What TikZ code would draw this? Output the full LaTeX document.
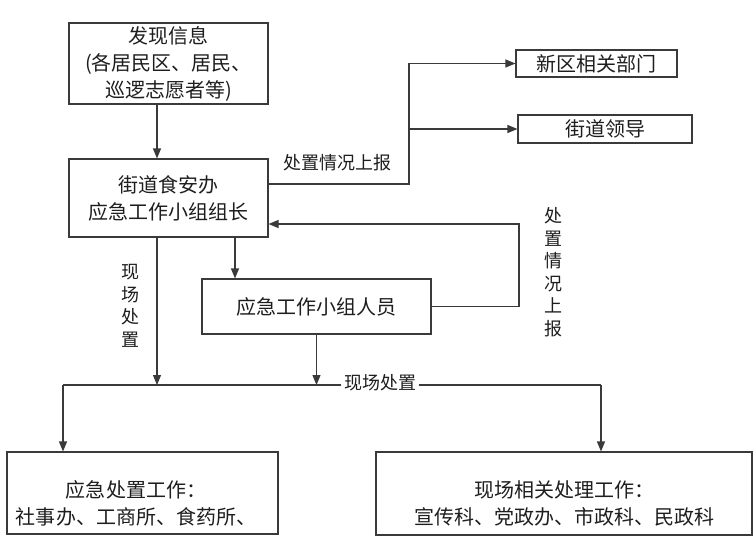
\documentclass[tikz,border=0pt]{standalone}
\usepackage{fontspec}
\setmainfont{Noto Sans CJK SC}
\usetikzlibrary{arrows.meta}
\definecolor{lc}{HTML}{3A3A3A}
\definecolor{tc}{HTML}{1E1E1E}
\begin{document}
\begin{tikzpicture}[x=1pt,y=-1pt,
  box/.style={draw=lc, line width=1.1pt, inner sep=0pt, align=center, text=tc,
              font=\fontsize{20}{27}\selectfont},
  arr/.style={draw=lc, line width=1.1pt, -{Triangle[length=10pt,width=8pt]}},
  ln/.style={draw=lc, line width=1.1pt},
  lbl/.style={text=tc, inner sep=1pt, align=center, font=\fontsize{18}{22.5}\selectfont},
  txt/.style={text=tc, inner sep=0pt, align=center, font=\fontsize{20}{27}\selectfont}]
\fill[white] (0,0) rectangle (754,550);
\useasboundingbox (0,0) rectangle (754,550);

% boxes
\node[box, minimum width=199pt, minimum height=81pt] (b1) at (168.5,63.5)
  {发现信息\\(各居民区、居民、\\巡逻志愿者等)};
\node[box, minimum width=199pt, minimum height=78pt] (b2) at (168.5,198)
  {街道食安办\\应急工作小组组长};
\node[box, minimum width=161pt, minimum height=27pt] (b3) at (596.5,63.5) {新区相关部门};
\node[box, minimum width=174pt, minimum height=28pt] (b4) at (605,129) {街道领导};
\node[box, minimum width=229pt, minimum height=55pt] (b5) at (316.5,306.5) {应急工作小组人员};
\node[box, minimum width=271pt, minimum height=82pt] (b6) at (142.5,493) {};
\node[box, minimum width=376pt, minimum height=83pt] (b7) at (564,493.5) {};
\node[txt] (t6) at (136,503.5) {应急处置工作：\\社事办、工商所、食药所、};
\node[txt] (t7) at (564,503.5) {现场相关处理工作：\\宣传科、党政办、市政科、民政科};

% helper coordinates
\coordinate (jx) at (409,0);
\coordinate (rx) at (519,0);
\coordinate (bus) at (0,385);

% connectors
\draw[arr] ([xshift=-11.5pt]b1.south) -- ([xshift=-11.5pt]b2.north);
\draw[arr] ([yshift=14pt]b2.east) -| (jx |- b3.west) -- (b3.west);
\draw[arr] (jx |- b4.west) -- (b4.west);
\draw[arr] (b5.east) -| ([yshift=-26pt]b2.east -| rx) -- ([yshift=-26pt]b2.east);
\draw[arr] ([xshift=66.5pt]b2.south) -- ([xshift=66.5pt]b2.south |- b5.north);
\draw[arr] ([xshift=-11.5pt]b2.south) -- ([xshift=-11.5pt]b2.south |- bus);
\draw[arr] (b5.south) -- (b5.south |- bus);
\draw[ln] ([xshift=-79.5pt]b6.north |- bus) -- ([xshift=37pt]b7.north |- bus);
\draw[arr] ([xshift=-79.5pt]b6.north |- bus) -- ([xshift=-79.5pt]b6.north);
\draw[arr] ([xshift=37pt]b7.north |- bus) -- ([xshift=37pt]b7.north);

% labels
\node[lbl] (l1) at (337,163) {处置情况上报};
\node[lbl] (l2) at (553,272) {处\\置\\情\\况\\上\\报};
\node[lbl] (l3) at (130,306) {现\\场\\处\\置};
\node[lbl, fill=white, inner xsep=3pt] (l4) at (380,383) {现场处置};
\end{tikzpicture}
\end{document}
